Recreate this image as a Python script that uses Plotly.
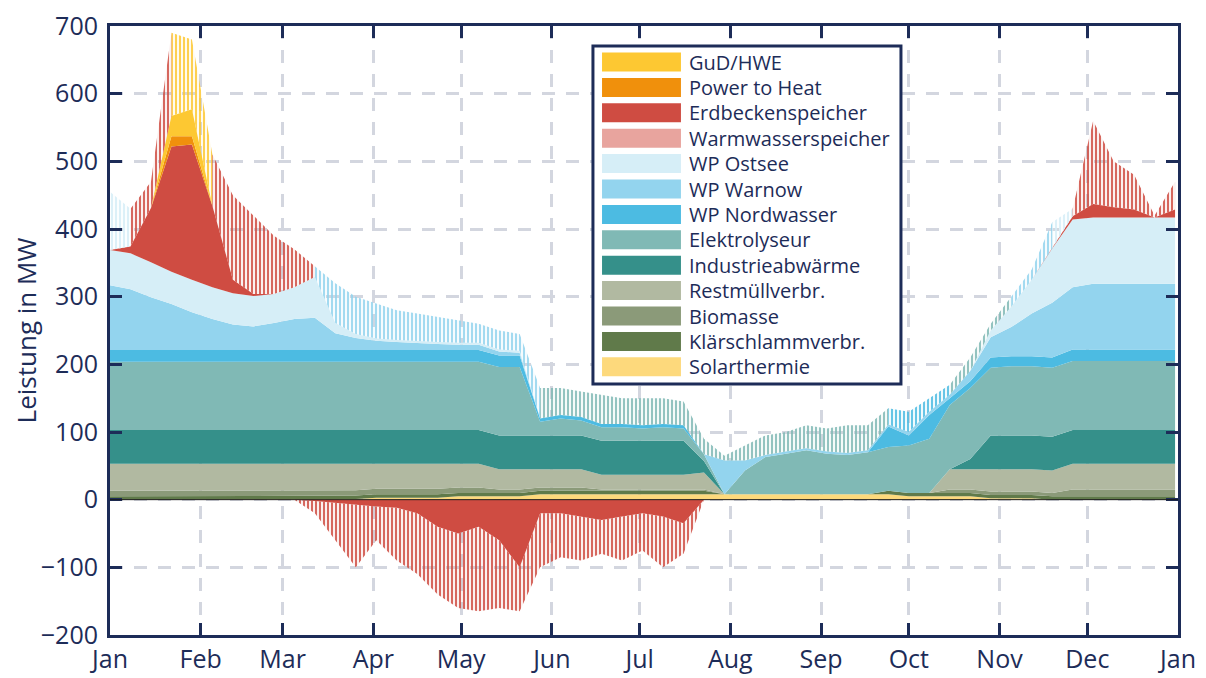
import numpy as np
import pandas as pd
import plotly.graph_objects as go

# Wochenwerte (MW), Stuetzstellen jeweils ab 1. Januar im 7-Tage-Takt
wochen = pd.date_range("2019-01-01", periods=53, freq="7D")

solarthermie = [0, 0, 0, 0, 0, 0, 0, 0, 0, 1, 1, 1, 1, 3, 3, 3, 3, 5, 5, 5, 5,
                8, 8, 8, 8, 8, 8, 8, 8, 8, 8, 8, 8, 8, 8, 8, 8, 8, 8,
                5, 5, 5, 5, 2, 2, 2, 0, 0, 0, 0, 0, 0, 0]
klaerschlamm = [5, 5, 5, 5, 5, 5, 5, 5, 5, 5, 5, 5, 5, 5, 5, 5, 5, 5, 5, 5, 5,
                5, 5, 5, 5, 5, 5, 5, 5, 5, 0, 0, 0, 0, 0, 0, 0, 0,
                5, 5, 5, 5, 5, 5, 5, 5, 5, 5, 5, 5, 5, 5, 5]
biomasse = [8, 8, 8, 8, 8, 8, 8, 8, 8, 8, 8, 8, 8, 8, 8, 8, 8, 8, 8, 5, 5,
            5, 5, 5, 2, 2, 2, 2, 2, 2, 0, 0, 0, 0, 0, 0, 0, 0,
            0, 0, 0, 5, 5, 5, 5, 5, 5, 10, 10, 10, 10, 10, 10]
restmuell = [40, 40, 40, 40, 40, 40, 40, 40, 40, 39, 39, 39, 39, 37, 37, 37, 37, 35, 35, 30, 30,
             27, 27, 27, 22, 22, 22, 22, 22, 25, 0, 0, 0, 0, 0, 0, 0, 0,
             0, 0, 0, 30, 30, 33, 33, 33, 33, 38, 38, 38, 38, 38, 38]
industrie = [50, 50, 50, 50, 50, 50, 50, 50, 50, 50, 50, 50, 50, 50, 50, 50, 50, 50, 50, 50, 50,
             50, 50, 50, 50, 50, 50, 50, 50, 17, 0, 0, 0, 0, 0, 0, 0, 0,
             0, 0, 0, 0, 15, 50, 50, 50, 50, 50, 50, 50, 50, 50, 50]
elektrolyseur = [101, 101, 101, 101, 101, 101, 101, 101, 101, 101, 101, 101, 101, 101, 101, 101,
                 101, 101, 101, 101, 101, 20, 25, 22, 20, 20, 18, 20, 18, 10, 0, 35, 55, 60, 65,
                 60, 58, 62, 65, 70, 80, 95, 105, 100, 102, 102, 102, 102, 102, 102, 102, 102, 102]
wp_nordwasser = [17, 17, 17, 17, 17, 17, 17, 17, 17, 17, 17, 17, 17, 17, 17, 17, 17, 17, 17, 17, 17,
                 5, 5, 5, 5, 5, 5, 5, 5, 0, 0, 0, 0, 0, 0, 0, 0, 0,
                 30, 15, 35, 10, 10, 15, 15, 15, 15, 17, 17, 17, 17, 17, 17]
wp_warnow = [96, 90, 78, 68, 56, 46, 38, 35, 40, 46, 48, 25, 18, 14, 12, 10, 9, 8, 8, 6, 4,
             0, 0, 0, 0, 0, 0, 0, 0, 0, 50, 15, 3, 3, 3, 3, 3, 3,
             3, 5, 5, 5, 15, 30, 43, 63, 81, 92, 97, 97, 97, 97, 97]
wp_ostsee = [52, 53, 52, 48, 48, 47, 46, 45, 43, 47, 60, 15, 6, 3, 3, 3, 3, 3, 3, 3, 3,
             0, 0, 0, 0, 0, 0, 0, 0, 0, 0, 0, 0, 0, 0, 0, 0, 0,
             0, 0, 0, 0, 0, 10, 30, 50, 80, 100, 98, 98, 98, 98, 98]
warmwasserspeicher = [0, 0, 0, 0, 0, 0, 0, 0, 0, 0, 0, 0, 0, 0, 0, 0, 0, 0, 0, 0, 0,
                      0, 0, 0, 0, 0, 0, 0, 0, 0, 0, 0, 0, 0, 0, 0, 0, 0,
                      0, 0, 0, 0, 0, 0, 0, 0, 0, 0, 0, 0, 0, 0, 0]
erdbecken_entladen = [0, 10, 80, 185, 200, 120, 20, 3, 0, 0, 0, 0, 0, 0, 0, 0, 0, 0, 0, 0, 0,
                      0, 0, 0, 0, 0, 0, 0, 0, 0, 0, 0, 0, 0, 0, 0, 0, 0,
                      0, 0, 0, 0, 0, 0, 0, 0, 0, 5, 20, 15, 12, 0, 12]
power_to_heat = [0, 0, 0, 15, 12, 0, 0, 0, 0, 0, 0, 0, 0, 0, 0, 0, 0, 0, 0, 0, 0,
                 0, 0, 0, 0, 0, 0, 0, 0, 0, 0, 0, 0, 0, 0, 0, 0, 0,
                 0, 0, 0, 0, 0, 0, 0, 0, 0, 0, 0, 0, 0, 0, 0]
gud_hwe = [0, 0, 0, 30, 40, 0, 0, 0, 0, 0, 0, 0, 0, 0, 0, 0, 0, 0, 0, 0, 0,
           0, 0, 0, 0, 0, 0, 0, 0, 0, 0, 0, 0, 0, 0, 0, 0, 0,
           0, 0, 0, 0, 0, 0, 0, 0, 0, 0, 0, 0, 0, 0, 0]

# Beladung des Erdbeckenspeichers (negativ) und kurzzeitige Spitzen
erdbecken_laden = [0, 0, 0, 0, 0, 0, 0, 0, 0, 0, -2, -5, -8, -10, -12, -20, -40, -50, -40, -60, -100,
                   -20, -20, -25, -30, -25, -20, -25, -35, 0, 0, 0, 0, 0, 0, 0, 0, 0,
                   0, 0, 0, 0, 0, 0, 0, 0, 0, 0, 0, 0, 0, 0, 0]
laden_spitze = [0, 0, 0, 0, 0, 0, 0, 0, 0, 0, -20, -60, -100, -60, -90, -110, -140, -160, -165, -160, -165,
                -100, -85, -90, -80, -90, -75, -100, -80, 0, 0, 0, 0, 0, 0, 0, 0, 0,
                0, 0, 0, 0, 0, 0, 0, 0, 0, 0, 0, 0, 0, 0, 0]
spitze_oben = [455, 430, 470, 690, 680, 510, 450, 420, 390, 370, 345, 320, 300, 290, 280, 275, 270,
               265, 260, 250, 245, 165, 165, 160, 155, 150, 150, 150, 145, 90, 65, 80, 95, 100, 110,
               105, 110, 110, 135, 130, 150, 170, 210, 260, 300, 340, 410, 430, 560, 500, 480, 420, 470]
spitzen_quelle = (["WP Ostsee"] + ["Erdbeckenspeicher"] * 2 + ["GuD/HWE"] * 2
                  + ["Erdbeckenspeicher"] * 5 + ["WP Warnow"] * 11 + ["Elektrolyseur"] * 17
                  + ["WP Nordwasser"] * 3 + ["Elektrolyseur"] * 3 + ["WP Warnow"] * 2
                  + ["WP Ostsee"] + ["Erdbeckenspeicher"] * 6)

NAVY = "#1d2c58"
FARBEN = {
    "GuD/HWE": "#fdc832",
    "Power to Heat": "#f0900c",
    "Erdbeckenspeicher": "#cf4c42",
    "Warmwasserspeicher": "#e8a49e",
    "WP Ostsee": "#d6eef7",
    "WP Warnow": "#93d4ee",
    "WP Nordwasser": "#4cbbe2",
    "Elektrolyseur": "#80b9b5",
    "Industrieabwärme": "#35908a",
    "Restmüllverbr.": "#b1b9a1",
    "Biomasse": "#8b9a79",
    "Klärschlammverbr.": "#607a4a",
    "Solarthermie": "#fdd97c",
}

# von unten nach oben gestapelt
stapel = [
    ("Solarthermie", solarthermie),
    ("Klärschlammverbr.", klaerschlamm),
    ("Biomasse", biomasse),
    ("Restmüllverbr.", restmuell),
    ("Industrieabwärme", industrie),
    ("Elektrolyseur", elektrolyseur),
    ("WP Nordwasser", wp_nordwasser),
    ("WP Warnow", wp_warnow),
    ("WP Ostsee", wp_ostsee),
    ("Warmwasserspeicher", warmwasserspeicher),
    ("Erdbeckenspeicher", erdbecken_entladen),
    ("Power to Heat", power_to_heat),
    ("GuD/HWE", gud_hwe),
]

fig = go.Figure()

for name, werte in stapel:
    fig.add_trace(go.Scatter(
        x=wochen, y=werte, name=name, stackgroup="erzeugung", mode="lines",
        line=dict(width=0), fillcolor=FARBEN[name],
    ))


def spitzen(x, unten, oben, farbe):
    fig.add_trace(go.Scatter(x=x, y=unten, mode="lines", line=dict(width=0),
                             showlegend=False, hoverinfo="skip"))
    fig.add_trace(go.Scatter(
        x=x, y=oben, mode="lines", line=dict(width=0), fill="tonexty",
        fillcolor="rgba(0,0,0,0)", showlegend=False, hoverinfo="skip",
        fillpattern=dict(shape="|", fgcolor=farbe, bgcolor="rgba(0,0,0,0)",
                         size=4, solidity=0.55, fgopacity=0.85),
    ))


# kurzzeitige Spitzen oberhalb der Wochenwerte
summe = np.sum([np.array(w, dtype=float) for _, w in stapel], axis=0)
oben = np.maximum(np.array(spitze_oben, dtype=float), summe)
n = len(wochen)
start = 0
for i in range(1, n + 1):
    if i == n or spitzen_quelle[i] != spitzen_quelle[start]:
        ende = min(i + 1, n)
        spitzen(wochen[start:ende], summe[start:ende], oben[start:ende],
                FARBEN[spitzen_quelle[start]])
        start = i

# Beladung Erdbeckenspeicher
fig.add_trace(go.Scatter(
    x=wochen, y=erdbecken_laden, mode="lines", fill="tozeroy",
    line=dict(width=0), fillcolor=FARBEN["Erdbeckenspeicher"], showlegend=False,
))
spitzen(wochen, erdbecken_laden, laden_spitze, FARBEN["Erdbeckenspeicher"])

achse = dict(
    ticks="inside", ticklen=12, tickwidth=3, tickcolor=NAVY,
    showline=True, linewidth=3, linecolor=NAVY, mirror="ticks",
    showgrid=True, gridcolor="#d3d6df", gridwidth=2.5, griddash="13px,11px",
    zeroline=False, automargin=False, ticklabeloverflow="allow",
    tickfont=dict(size=25, color=NAVY),
)

# Seite hat 8 px Rand im Browser, daher etwas kleiner
OBEN, UNTEN = 18, 43
fig.update_layout(
    width=1198, height=670,
    margin=dict(l=102, r=28, t=OBEN, b=UNTEN),
    plot_bgcolor="white", paper_bgcolor="white",
    font=dict(family="Open Sans", color=NAVY, size=20),
    showlegend=False,
    xaxis=dict(achse, range=["2019-01-01", "2020-01-01"], dtick="M1",
               tick0="2019-01-01", tickformat="%b"),
    yaxis=dict(achse, range=[-200, 700], dtick=100, ticklabelstandoff=4,
               title=dict(text="Leistung in MW", font=dict(size=26, color=NAVY), standoff=10)),
)

# Nulllinie
fig.add_shape(type="line", xref="paper", x0=0, x1=1, yref="y", y0=0, y1=0,
              line=dict(color="#1a1a1a", width=1), layer="above")

# Legende als Kasten (Pixel relativ zur Zeichenflaeche)
hoehe = 670 - OBEN - UNTEN


def py(pixel_von_oben):
    return 1 - pixel_von_oben / hoehe


fig.add_shape(type="rect", xref="paper", yref="paper", x0=0.4522, x1=0.7406,
              y0=py(358), y1=py(20), line=dict(color=NAVY, width=3),
              fillcolor="white", layer="above")
reihenfolge = [name for name, _ in stapel][::-1]
for i, name in enumerate(reihenfolge):
    ym = py(36 + 25.4 * i)
    fig.add_shape(type="rect", xref="paper", yref="paper", x0=0.4607, x1=0.5346,
                  y0=ym - 9.5 / hoehe, y1=ym + 9.5 / hoehe, line=dict(width=0),
                  fillcolor=FARBEN[name], layer="above")
    fig.add_annotation(x=0.5403, y=ym, xref="paper", yref="paper", text=name,
                       showarrow=False, xanchor="left", yanchor="middle",
                       font=dict(size=20, color=NAVY))

fig.write_html("out.html")
